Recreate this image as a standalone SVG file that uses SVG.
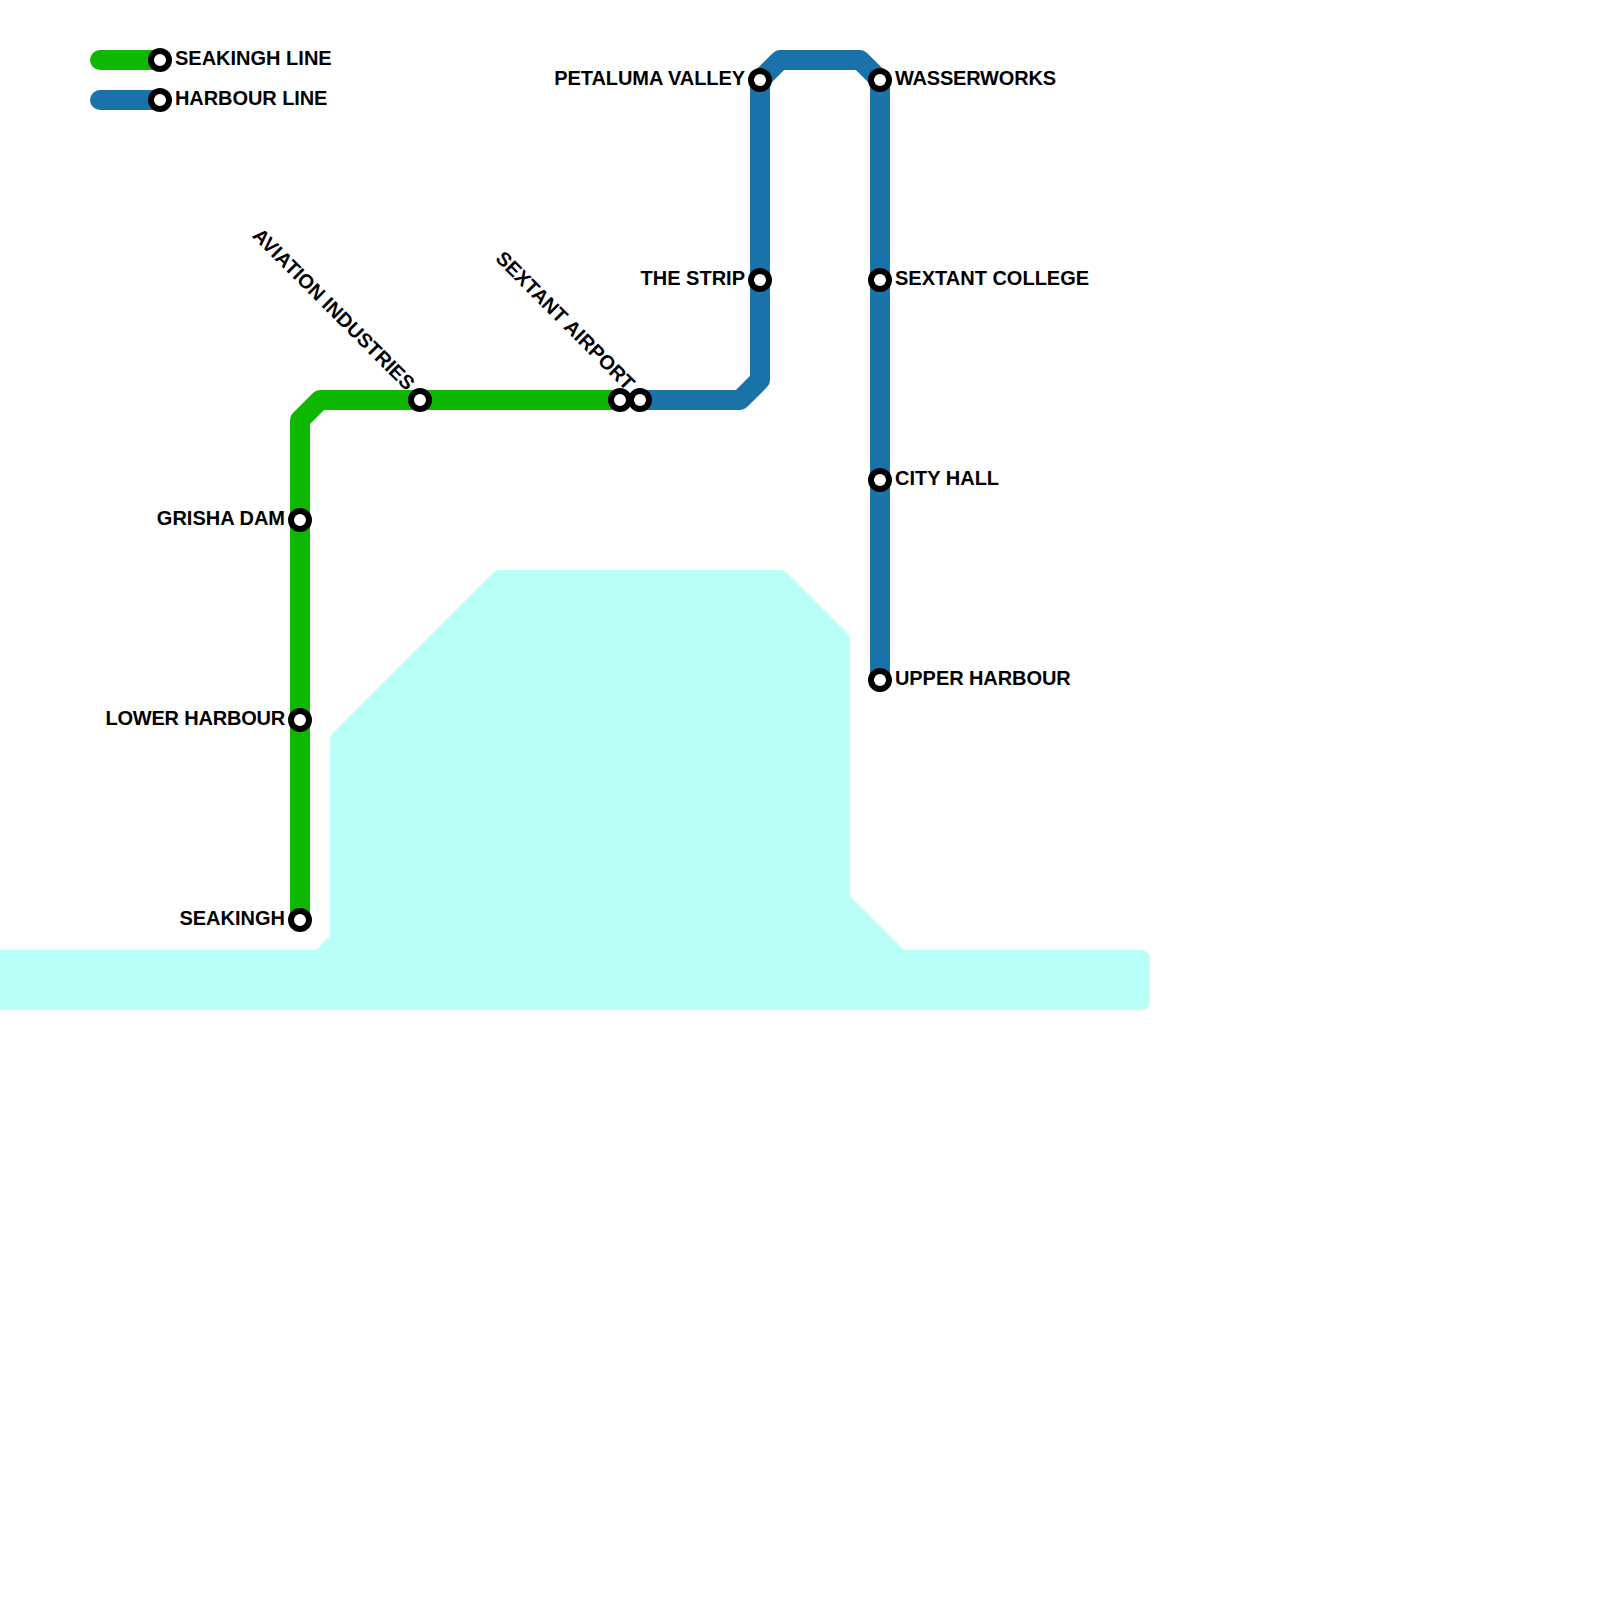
<svg xmlns="http://www.w3.org/2000/svg" width="1600" height="1600" viewBox="0 0 1600 1600">
<style>
.line{fill:none;stroke-width:20;stroke-linecap:round;stroke-linejoin:round}
.green{stroke:#0fb800}
.blue{stroke:#1a72aa}
.stn{fill:#fff;stroke:#000;stroke-width:6}
text{font-family:"Liberation Sans",Arial,sans-serif;font-size:20px;font-weight:700;fill:#000}
.r{text-anchor:end}
</style>
<rect width="1600" height="1600" fill="#fff"/>
<path id="water" fill="#b9fff8" d="M0 950H316L330 936V740Q330 736 333 733L494 572Q497 570 500 570H780Q784 570 786 572L847 633Q850 636 850 640V896L904 950H1140Q1150 950 1150 960V1000Q1150 1010 1140 1010H0Z"/>
<g id="connectors">
<path class="line green" d="M100 60H160"/>
<path class="line blue" d="M100 100H160"/>
<path class="line green" d="M300 920V420L320 400H620"/>
<path class="line blue" d="M640 400H740L760 380V80L780 60H860L880 80V680"/>
</g>
<g id="legend-seakingh"><circle class="stn" cx="160" cy="60" r="9"/><text x="175" y="64.5">SEAKINGH LINE</text></g>
<g id="legend-harbour"><circle class="stn" cx="160" cy="100" r="9"/><text x="175" y="104.5" letter-spacing="-0.08">HARBOUR LINE</text></g>
<g id="seakingh"><circle class="stn" cx="300" cy="920" r="9"/><text class="r" x="285" y="924.5">SEAKINGH</text></g>
<g id="lower-harbour"><circle class="stn" cx="300" cy="720" r="9"/><text class="r" x="285" y="724.5" letter-spacing="-0.2">LOWER HARBOUR</text></g>
<g id="grisha-dam"><circle class="stn" cx="300" cy="520" r="9"/><text class="r" x="285" y="524.5">GRISHA DAM</text></g>
<g id="aviation-industries"><circle class="stn" cx="420" cy="400" r="9"/><text class="r" transform="translate(406.5 391.5) rotate(45)">AVIATION INDUSTRIES</text></g>
<g id="sextant-airport"><circle class="stn" cx="620" cy="400" r="9"/><text class="r" transform="translate(626.5 391.5) rotate(45)">SEXTANT AIRPORT</text></g>
<g id="sextant-airport-2"><circle class="stn" cx="640" cy="400" r="9"/></g>
<g id="the-strip"><circle class="stn" cx="760" cy="280" r="9"/><text class="r" x="745" y="284.5">THE STRIP</text></g>
<g id="petaluma-valley"><circle class="stn" cx="760" cy="80" r="9"/><text class="r" x="745" y="84.5" letter-spacing="-0.07">PETALUMA VALLEY</text></g>
<g id="wasserworks"><circle class="stn" cx="880" cy="80" r="9"/><text x="895" y="84.5" letter-spacing="-0.2">WASSERWORKS</text></g>
<g id="sextant-college"><circle class="stn" cx="880" cy="280" r="9"/><text x="895" y="284.5">SEXTANT COLLEGE</text></g>
<g id="city-hall"><circle class="stn" cx="880" cy="480" r="9"/><text x="895" y="484.5">CITY HALL</text></g>
<g id="upper-harbour"><circle class="stn" cx="880" cy="680" r="9"/><text x="895" y="684.5" letter-spacing="-0.08">UPPER HARBOUR</text></g>
</svg>
